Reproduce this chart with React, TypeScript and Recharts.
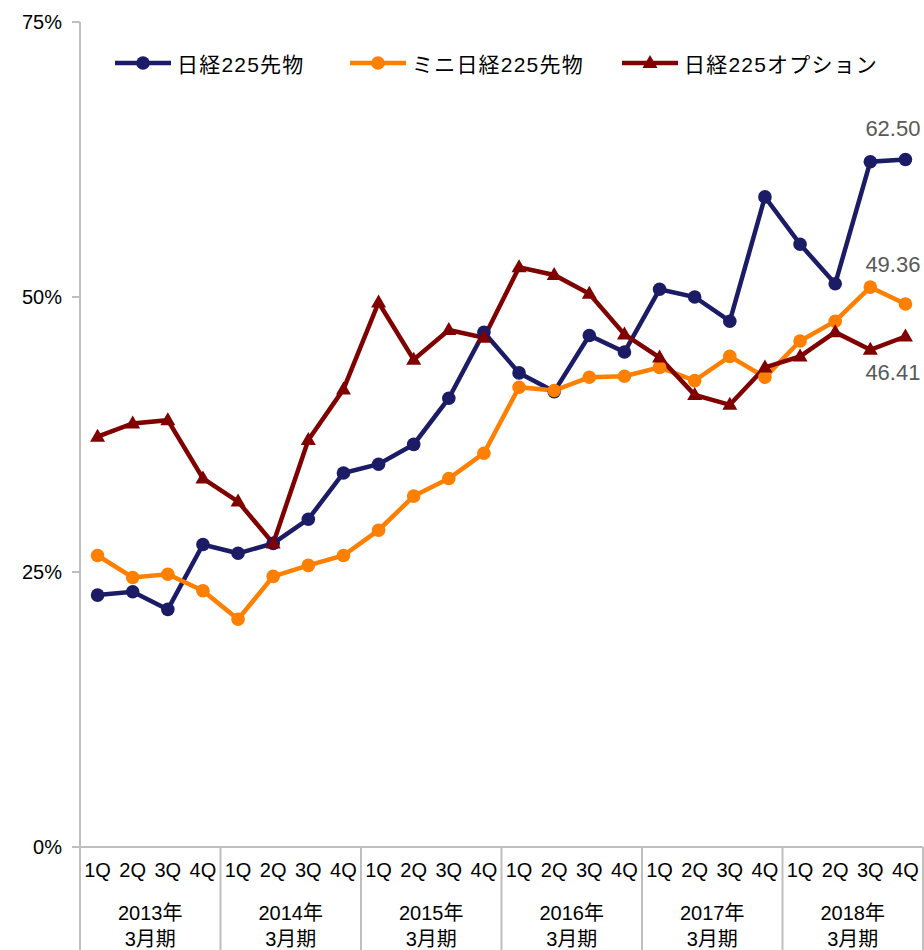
import { LineChart, Line, XAxis, YAxis, Legend, LabelList } from "recharts";

const QUARTERS = ["1Q", "2Q", "3Q", "4Q"];
const YEARS = ["2013年", "2014年", "2015年", "2016年", "2017年", "2018年"];
const PERIOD = "3月期";
const Y_TICKS = [0, 25, 50, 75];

// 日経225先物 / ミニ日経225先物 / 日経225オプション (%)
const N225 = [22.9, 23.2, 21.6, 27.5, 26.7, 27.6, 29.8, 34.0, 34.8, 36.6, 40.8, 46.8, 43.1, 41.4, 46.5, 45.0, 50.7, 50.0, 47.8, 59.1, 54.8, 51.2, 62.3, 62.5];
const MINI = [26.5, 24.5, 24.8, 23.3, 20.7, 24.6, 25.6, 26.5, 28.8, 31.9, 33.5, 35.8, 41.8, 41.5, 42.7, 42.8, 43.6, 42.4, 44.6, 42.7, 46.0, 47.8, 50.9, 49.36];
const OPT = [37.3, 38.5, 38.8, 33.5, 31.4, 27.6, 37.0, 41.6, 49.5, 44.3, 47.0, 46.3, 52.7, 52.0, 50.3, 46.6, 44.5, 41.1, 40.2, 43.6, 44.6, 46.8, 45.2, 46.41];

const SERIES = [
  { key: "n225", name: "日経225先物", color: "#1B1B66", shape: "circle", labelDy: -31 },
  { key: "mini", name: "ミニ日経225先物", color: "#FF7F00", shape: "circle", labelDy: -40 },
  { key: "opt", name: "日経225オプション", color: "#800000", shape: "triangle", labelDy: 36 },
];

const data = YEARS.flatMap((y, yi) =>
  QUARTERS.map((q, qi) => {
    const i = yi * 4 + qi;
    return { q: `${y}${q}`, quarter: q, n225: N225[i], mini: MINI[i], opt: OPT[i] };
  })
);

const W = 924;
const H = 950;
const AXIS_W = 80;
const RIGHT = 1;
const BAND = (W - AXIS_W - RIGHT) / data.length;
const FONT = '"Liberation Sans", Arial, "Noto Sans CJK JP", sans-serif';
const GRAY = "#BFBFBF";
const LAST = data.length - 1;

function CatTick(props: any) {
  const { x, y, payload } = props;
  const i = payload.index;
  const qi = i % 4;
  return (
    <g fontFamily={FONT}>
      {qi === 0 && <line x1={x - BAND / 2} x2={x - BAND / 2} y1={y} y2={H} stroke={GRAY} strokeWidth={2} />}
      {i === LAST && <line x1={x + BAND / 2} x2={x + BAND / 2} y1={y} y2={H} stroke={GRAY} strokeWidth={2} />}
      <text x={x} y={y + 30} textAnchor="middle" fontSize={20} fill="#000">{data[i].quarter}</text>
      {qi === 1 && (
        <>
          <text x={x + BAND / 2} y={y + 73} textAnchor="middle" fontSize={20} fill="#000">{YEARS[Math.floor(i / 4)]}</text>
          <text x={x + BAND / 2} y={y + 99} textAnchor="middle" fontSize={20} fill="#000">{PERIOD}</text>
        </>
      )}
    </g>
  );
}

function ValTick(props: any) {
  const { x, y, payload } = props;
  return (
    <text x={x} y={y} textAnchor="end" dominantBaseline="central" fontSize={20} fontFamily={FONT} fill="#000">
      {`${payload.value}%`}
    </text>
  );
}

function Triangle({ cx, cy, fill }: { cx: number; cy: number; fill: string }) {
  return <polygon points={`${cx},${cy - 8} ${cx - 7.5},${cy + 5} ${cx + 7.5},${cy + 5}`} fill={fill} />;
}

function makeDot(color: string, shape: string) {
  return (p: any) => {
    if (p.cx == null || p.cy == null) return <g key={p.index} />;
    return shape === "triangle"
      ? <Triangle key={p.index} cx={p.cx} cy={p.cy} fill={color} />
      : <circle key={p.index} cx={p.cx} cy={p.cy} r={6.8} fill={color} />;
  };
}

function makeLabel(dy: number) {
  return (p: any) => {
    if (p.index !== LAST) return null;
    return (
      <text x={p.x + 15} y={p.y + dy} textAnchor="end" dominantBaseline="central" fontSize={22} fontFamily={FONT} fill="#595959">
        {Number(p.value).toFixed(2)}
      </text>
    );
  };
}

const LEGEND_LEFT = [115, 350, 622];

function LegendBox() {
  return (
    <div style={{ position: "relative", width: W, height: 26 }}>
      {SERIES.map((s, i) => (
        <div key={s.key} style={{ position: "absolute", left: LEGEND_LEFT[i], top: 0, display: "flex", alignItems: "center", height: 26 }}>
          <svg width={56} height={26}>
            <line x1={0} x2={56} y1={13} y2={13} stroke={s.color} strokeWidth={4.5} />
            {s.shape === "triangle" ? <Triangle cx={28} cy={13} fill={s.color} /> : <circle cx={28} cy={13} r={6.8} fill={s.color} />}
          </svg>
          <span style={{ marginLeft: 6, fontFamily: FONT, fontSize: 21, letterSpacing: 1.2, color: "#000", whiteSpace: "nowrap" }}>{s.name}</span>
        </div>
      ))}
    </div>
  );
}

export default function App() {
  return (
    <div style={{ width: W, height: H }}>
      <style>{`body{margin:0}`}</style>
      <LineChart width={W} height={H} data={data} margin={{ top: 22, right: RIGHT, bottom: 0, left: 0 }}>
        <XAxis
          dataKey="q"
          interval={0}
          height={103}
          padding={{ left: BAND / 2, right: BAND / 2 }}
          tickSize={0}
          tickMargin={0}
          stroke={GRAY}
          strokeWidth={2}
          tick={<CatTick />}
        />
        <YAxis
          domain={[0, 75]}
          ticks={Y_TICKS}
          width={AXIS_W}
          tickSize={8}
          tickMargin={10}
          stroke={GRAY}
          strokeWidth={2}
          tick={<ValTick />}
        />
        <Legend layout="horizontal" verticalAlign="middle" align="center" wrapperStyle={{ top: 50, left: 0, width: W }} content={() => <LegendBox />} />
        {SERIES.map((s) => (
          <Line
            key={s.key}
            type="linear"
            dataKey={s.key}
            name={s.name}
            stroke={s.color}
            strokeWidth={4.5}
            dot={makeDot(s.color, s.shape)}
            activeDot={false}
            isAnimationActive={false}
          >
            <LabelList dataKey={s.key} content={makeLabel(s.labelDy)} />
          </Line>
        ))}
      </LineChart>
    </div>
  );
}
